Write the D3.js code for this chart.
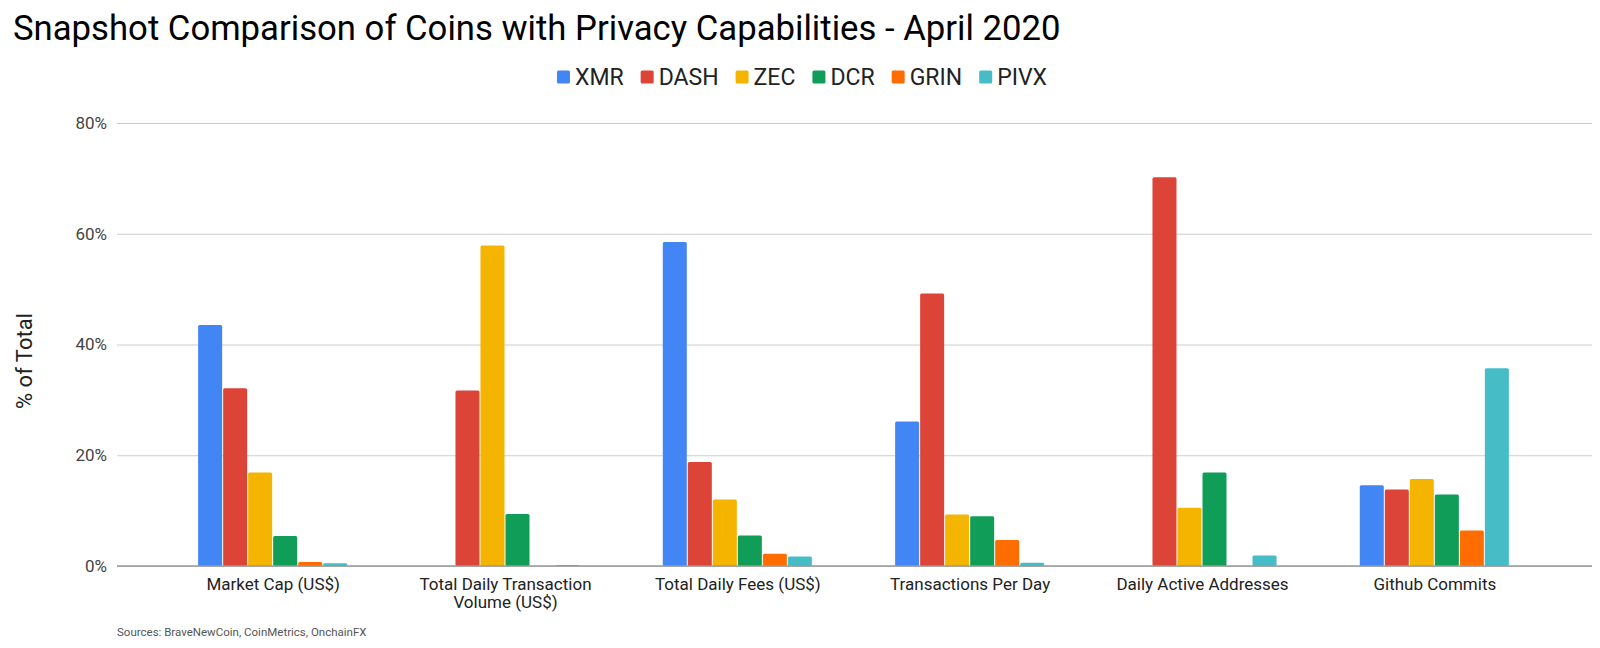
<!DOCTYPE html>
<html>
<head>
<meta charset="utf-8">
<script src="https://cdn.jsdelivr.net/npm/d3@7"></script>
<style>
  html, body { margin: 0; padding: 0; background: #fff; }
  svg { display: block; font-family: Roboto, "Noto Sans", sans-serif; }
</style>
</head>
<body>
<div id="chart"></div>
<script>
// categories along x
const categories = [
    'Market Cap (US$)',
    'Total Daily Transaction Volume (US$)',
    'Total Daily Fees (US$)',
    'Transactions Per Day',
    'Daily Active Addresses',
    'Github Commits'
];

const coins = ['XMR', 'DASH', 'ZEC', 'DCR', 'GRIN', 'PIVX'];

// % of total, one value per category
const xmr  = [43.5, 0,    58.5, 26.1, 0,    14.6];
const dash = [32.1, 31.7, 18.8, 49.2, 70.2, 13.8];
const zec  = [16.9, 57.9, 12.0, 9.3,  10.5, 15.7];
const dcr  = [5.4,  9.4,  5.5,  9.0,  16.9, 12.9];
const grin = [0.7,  0,    2.2,  4.7,  0,    6.4];
const pivx = [0.5,  0.2,  1.7,  0.6,  1.9,  35.7];

const yTicks = [0, 20, 40, 60, 80];

const colors = ['#4285F4', '#DB4437', '#F4B400', '#0F9D58', '#FF6D00', '#46BDC6'];

const seriesValues = [xmr, dash, zec, dcr, grin, pivx];
const data = categories.map((c, i) => ({
    category: c,
    values: coins.map((k, j) => ({ coin: k, value: seriesValues[j][i] }))
}));

const width = 1600, height = 648;
const plot = { left: 117, right: 1592, top: 123, bottom: 566 };

const svg = d3.select('#chart')
    .append('svg')
    .attr('width', width)
    .attr('height', height);

// Title
svg.append('text')
    .attr('x', 13)
    .attr('y', 40)
    .attr('font-size', 34.7)
    .attr('fill', '#000')
    .text('Snapshot Comparison of Coins with Privacy Capabilities - April 2020');

// Scales
const x0 = d3.scaleBand()
    .domain(categories)
    .range([plot.left + 40, plot.right - 41])
    .paddingInner(0.354)
    .paddingOuter(0.177);

const x1 = d3.scaleBand()
    .domain(coins)
    .range([0, x0.bandwidth()]);

const y = d3.scaleLinear()
    .domain([0, 80])
    .range([plot.bottom, plot.top]);

const color = d3.scaleOrdinal().domain(coins).range(colors);

// Y axis with gridlines
const yAxis = svg.append('g')
    .attr('transform', `translate(${plot.left},0)`)
    .call(d3.axisLeft(y)
        .tickValues(yTicks)
        .tickFormat(d => d + '%')
        .tickSize(-(plot.right - plot.left))
        .tickPadding(10));
yAxis.select('.domain').remove();
yAxis.selectAll('.tick line').attr('stroke', '#cccccc');
yAxis.selectAll('.tick text')
    .attr('font-size', 17)
    .attr('fill', '#444')
    .attr('font-family', 'Roboto, sans-serif');

// Y axis title
svg.append('text')
    .attr('transform', `translate(32,361) rotate(-90)`)
    .attr('text-anchor', 'middle')
    .attr('font-size', 22)
    .attr('fill', '#222')
    .text('% of Total');

// Bars
const groups = svg.append('g')
    .selectAll('g')
    .data(data)
    .join('g')
    .attr('transform', d => `translate(${x0(d.category)},0)`);

groups.selectAll('rect')
    .data(d => d.values.filter(v => v.value > 0))
    .join('rect')
    .attr('x', d => x1(d.coin))
    .attr('y', d => y(d.value))
    .attr('width', x1.bandwidth() - 1)
    .attr('height', d => y(0) - y(d.value))
    .attr('rx', 1.5)
    .attr('fill', d => color(d.coin));

// Baseline
svg.append('line')
    .attr('x1', plot.left)
    .attr('x2', plot.right)
    .attr('y1', y(0))
    .attr('y2', y(0))
    .attr('stroke', '#999')
    .attr('stroke-width', 1.5);

// X axis labels
const xAxis = svg.append('g')
    .attr('transform', `translate(0,${plot.bottom})`)
    .call(d3.axisBottom(x0).tickSize(0).tickPadding(12));
xAxis.select('.domain').remove();
xAxis.selectAll('.tick text')
    .attr('font-size', 17)
    .attr('fill', '#222')
    .attr('font-family', 'Roboto, sans-serif')
    .call(wrap, 210);

function wrap(texts, maxWidth) {
    texts.each(function() {
        const text = d3.select(this);
        const words = text.text().split(/\s+/);
        const yAttr = text.attr('y');
        const dy = parseFloat(text.attr('dy')) || 0;
        let line = [];
        let lineNo = 0;
        let tspan = text.text(null).append('tspan').attr('x', 0).attr('y', yAttr).attr('dy', dy + 'em');
        words.forEach(w => {
            line.push(w);
            tspan.text(line.join(' '));
            if (tspan.node().getComputedTextLength() > maxWidth && line.length > 1) {
                line.pop();
                tspan.text(line.join(' '));
                line = [w];
                lineNo++;
                tspan = text.append('tspan').attr('x', 0).attr('y', yAttr)
                    .attr('dy', (dy + lineNo * 1.05) + 'em').text(w);
            }
        });
    });
}

// Legend
const legend = svg.append('g');
let lx = 0;
coins.forEach(c => {
    const item = legend.append('g').attr('transform', `translate(${lx},0)`);
    item.append('rect')
        .attr('x', 0).attr('y', -6.5)
        .attr('width', 13).attr('height', 13)
        .attr('rx', 1.5)
        .attr('fill', color(c));
    const t = item.append('text')
        .attr('x', 18)
        .attr('y', 0)
        .attr('dy', '0.35em')
        .attr('font-size', 23)
        .attr('fill', '#222')
        .text(c);
    lx += 18 + t.node().getComputedTextLength() + 17;
});
const legendWidth = lx - 17;
legend.attr('transform', `translate(${802 - legendWidth / 2},77)`);

// Source note
svg.append('text')
    .attr('x', 117)
    .attr('y', 636)
    .attr('font-size', 11.5)
    .attr('fill', '#555')
    .text('Sources: BraveNewCoin, CoinMetrics, OnchainFX');
</script>
</body>
</html>
